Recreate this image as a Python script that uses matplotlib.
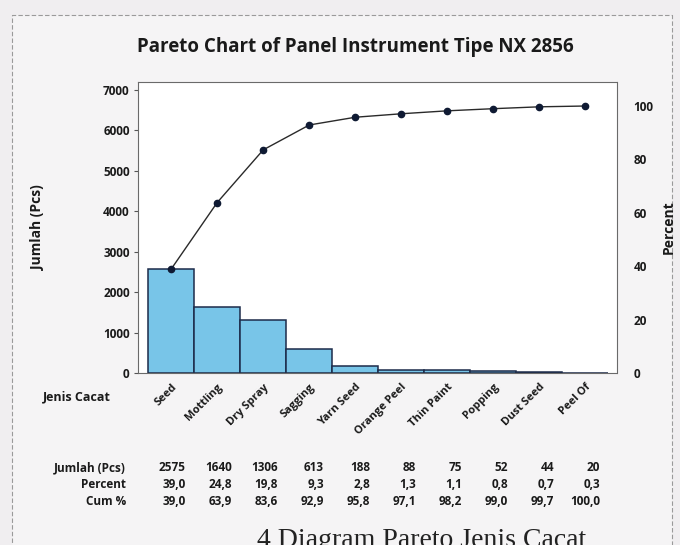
import matplotlib.pyplot as plt
from matplotlib.patches import Rectangle
from matplotlib.transforms import blended_transform_factory

plt.rcParams['font.family'] = ['Open Sans', 'DejaVu Sans']

defects = ['Seed', 'Mottling', 'Dry Spray', 'Sagging', 'Yarn Seed',
           'Orange Peel', 'Thin Paint', 'Popping', 'Dust Seed', 'Peel Of']
counts = [2575, 1640, 1306, 613, 188, 88, 75, 52, 44, 20]
percent = ['39,0', '24,8', '19,8', '9,3', '2,8', '1,3', '1,1', '0,8', '0,7', '0,3']
cum_pct = [39.0, 63.9, 83.6, 92.9, 95.8, 97.1, 98.2, 99.0, 99.7, 100.0]
left_ticks = [0, 1000, 2000, 3000, 4000, 5000, 6000, 7000]
right_ticks = [0, 20, 40, 60, 80, 100]

bar_color = '#78c5e8'
edge_color = '#1c2b4a'
ink = '#1a1a1a'

fig = plt.figure(figsize=(6.8, 5.45), dpi=100, facecolor='#f0eef0')
# dashed frame around the graph region
fig.patches.append(Rectangle((0.018, -0.05), 0.97, 1.022, transform=fig.transFigure,
                             fill=True, facecolor='#f5f4f5', edgecolor='#9a9a9a',
                             linestyle=(0, (4, 2)), linewidth=0.8, zorder=-5))

ax = fig.add_axes([0.203, 0.315, 0.704, 0.535])
x = list(range(len(defects)))
ax.bar(x, counts, width=1.0, color=bar_color, edgecolor=edge_color, linewidth=1.1)
ymax = 7200
ax.set_ylim(0, ymax)
ax.set_xlim(-0.72, 9.68)
ax.set_yticks(left_ticks)
ax.set_yticklabels([str(t) for t in left_ticks], fontsize=8.5, fontweight='bold', color=ink)
ax.set_xticks(x)
ax.set_xticklabels(defects, rotation=45, ha='right', rotation_mode='anchor',
                   fontsize=8, fontweight='bold', color=ink)
ax.tick_params(axis='x', length=0, pad=6)
ax.tick_params(axis='y', length=3, color='#555555', pad=3)
for s in ax.spines.values():
    s.set_color('#6a6a6a')
    s.set_linewidth(0.8)
    s.set_linestyle((0, (3, 1)))
ax.set_ylabel('Jumlah (Pcs)', fontsize=10, fontweight='bold', color=ink, labelpad=42)

ax2 = ax.twinx()
ax2.set_ylim(0, ymax / sum(counts) * 100)
ax2.plot(x, cum_pct, color='#2a2a2a', linewidth=1.0, marker='o', markersize=4.5,
         markerfacecolor='#0f1a33', markeredgecolor='#0f1a33')
ax2.set_yticks(right_ticks)
ax2.set_yticklabels([str(t) for t in right_ticks], fontsize=8.5, fontweight='bold', color=ink)
ax2.tick_params(axis='y', length=0, pad=12)
for s in ax2.spines.values():
    s.set_visible(False)
ax2.set_ylabel('Percent', fontsize=10, fontweight='bold', color=ink, rotation=90, labelpad=6)

fig.text(0.522, 0.913, 'Pareto Chart of Panel Instrument Tipe NX 2856',
         ha='center', va='center', fontsize=13.5, fontweight='bold', color=ink)
fig.text(0.163, 0.272, 'Jenis Cacat', ha='right', va='center',
         fontsize=9, fontweight='bold', color=ink)

# summary table under the chart
trans = blended_transform_factory(ax.transData, fig.transFigure)
rows = [('Jumlah (Pcs)', [str(c) for c in counts]),
        ('Percent', percent),
        ('Cum %', ['{:.1f}'.format(v).replace('.', ',') for v in cum_pct])]
row_y = [0.142, 0.111, 0.080]
for (label, vals), yy in zip(rows, row_y):
    fig.text(0.185, yy, label, ha='right', va='center', fontsize=8.5,
             fontweight='bold', color=ink)
    for i, v in enumerate(vals):
        ax.text(i + 0.32, yy, v, transform=trans, ha='right', va='center',
                fontsize=8.5, fontweight='bold', color=ink)

fig.text(0.378, -0.004, '4 Diagram Pareto Jenis Cacat', ha='left', va='baseline',
         fontsize=20, family='Liberation Serif', color='#222222')

fig.savefig('out.png', dpi=100, facecolor=fig.get_facecolor())
